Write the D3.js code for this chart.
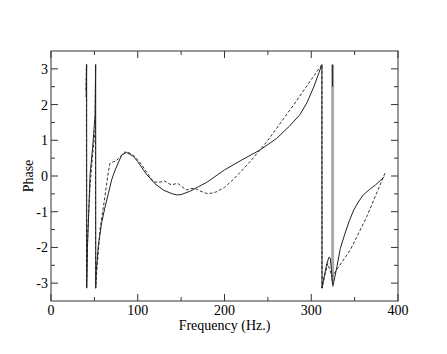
<!DOCTYPE html>
<html><head><meta charset="utf-8">
<script src="https://cdn.jsdelivr.net/npm/d3@7"></script>
<style>body{margin:0;background:#fff}svg{display:block}text{font-family:"Liberation Serif","Times New Roman",serif;fill:#000}</style>
</head><body><div id="chart"></div>
<script>
const xTicks = [0, 100, 200, 300, 400];
const xMinor = [50, 150, 250, 350];
const yTicks = [-3, -2, -1, 0, 1, 2, 3];
const yMinor = [-2.5, -1.5, -0.5, 0.5, 1.5, 2.5];

// solid series (null = gap)
const solidFreq = [40.5, 41.1, 41.2, 42, 43.5, 45, 48, 50.8, 51.5, 51.6, 52, 54.6, 58.5, 62, 66, 70, 74, 81.5, 87, 95, 100, 110, 120, 130, 140, 145, 150, 160, 170, 180, 200, 220, 241, 260, 275, 287, 295, 303, 309, 312.3, 312.4, 315, 318, 320.5, 322, 323.5, 324.6, null, 324.6, 324.6, null, 324.8, 327, 329.6, 333.5, 339, 344, 349, 355, 360, 367, 374, 380, 384];
const solidPhase = [2.2, 3.12, -3.14, -2.0, -1.0, 0.03, 0.8, 1.7, 3.12, -3.14, -2.7, -1.93, -1.3, -0.9, -0.5, -0.1, 0.17, 0.59, 0.66, 0.55, 0.4, 0.05, -0.22, -0.4, -0.5, -0.53, -0.52, -0.43, -0.3, -0.17, 0.17, 0.45, 0.73, 1.05, 1.4, 1.72, 2.05, 2.5, 2.9, 3.12, -3.14, -2.8, -2.45, -2.27, -2.3, -2.7, -3.05, null, 2.5, 3.12, null, -3.1, -2.85, -2.54, -2.03, -1.6, -1.25, -0.95, -0.7, -0.53, -0.38, -0.25, -0.12, -0.02];

// dashed series
const dashFreq = [40.3, 40.8, 40.9, 42.5, 45, 48, 51, 51.3, 51.4, 53, 56.5, 62, 66, 68, 72, 75, 80, 85, 89, 95, 100, 105, 110, 114, 118, 124, 131, 135, 139, 143, 147, 152, 156.6, 161, 166, 172, 178, 183, 190, 200, 210, 220, 230, 241, 250, 260, 270, 280, 290, 300, 312.3, 312.4, 316, 319, 321, 324, 330, 345, 364, 385];
const dashPhase = [2.4, 3.12, -3.14, -1.5, -0.3, 0.6, 1.3, 3.12, -3.14, -2.6, -1.5, -0.6, 0.1, 0.36, 0.4, 0.42, 0.55, 0.67, 0.66, 0.58, 0.45, 0.3, 0.12, -0.02, -0.16, -0.18, -0.14, -0.2, -0.25, -0.22, -0.22, -0.32, -0.39, -0.35, -0.35, -0.42, -0.48, -0.49, -0.45, -0.32, -0.1, 0.15, 0.42, 0.73, 1.0, 1.33, 1.67, 2.0, 2.35, 2.7, 3.12, -3.14, -2.75, -2.45, -2.6, -2.82, -2.6, -2.07, -1.14, 0.08];

// gray band (rapid wrapping region)
const bandFreq = [324.6, 324.6];
const bandPhase = [-2.95, 3.12];

const W = 447, H = 354;
const m = {left: 51, right: 49, top: 51, bottom: 53};
const svg = d3.select("#chart").append("svg").attr("width", W).attr("height", H);
const x = d3.scaleLinear().domain([0, 400]).range([m.left, W - m.right]);
const y = d3.scaleLinear().domain([-3.5, 3.5]).range([H - m.bottom, m.top]);

const zip = (a, b) => a.map((v, i) => [v, b[i]]);
const line = d3.line().defined(d => d[0] !== null && d[1] !== null).x(d => x(d[0])).y(d => y(d[1]));

const g = svg.append("g");
g.append("path").datum(zip(bandFreq, bandPhase)).attr("d", line)
  .attr("fill", "none").attr("stroke", "#aaa").attr("stroke-width", 3);
g.append("path").datum(zip(dashFreq, dashPhase)).attr("d", line)
  .attr("fill", "none").attr("stroke", "#333").attr("stroke-width", 1).attr("stroke-dasharray", "3,2");
g.append("path").datum(zip(solidFreq, solidPhase)).attr("d", line)
  .attr("fill", "none").attr("stroke", "#222").attr("stroke-width", 1);

// frame
svg.append("rect").attr("x", x(0)).attr("y", y(3.5)).attr("width", x(400) - x(0)).attr("height", y(-3.5) - y(3.5))
  .attr("fill", "none").attr("stroke", "#333").attr("stroke-width", 1);

const tk = "#333";
function hTicks(vals, len) {
  vals.forEach(v => {
    svg.append("line").attr("x1", x(0)).attr("x2", x(0) + len).attr("y1", y(v)).attr("y2", y(v)).attr("stroke", tk);
    svg.append("line").attr("x1", x(400)).attr("x2", x(400) - len).attr("y1", y(v)).attr("y2", y(v)).attr("stroke", tk);
  });
}
function vTicks(vals, len) {
  vals.forEach(v => {
    svg.append("line").attr("y1", y(-3.5)).attr("y2", y(-3.5) - len).attr("x1", x(v)).attr("x2", x(v)).attr("stroke", tk);
    svg.append("line").attr("y1", y(3.5)).attr("y2", y(3.5) + len).attr("x1", x(v)).attr("x2", x(v)).attr("stroke", tk);
  });
}
hTicks(yTicks, 7); hTicks(yMinor, 4);
vTicks(xTicks, 7); vTicks(xMinor, 4);

svg.selectAll(".yl").data(yTicks).enter().append("text")
  .attr("x", x(0) - 3).attr("y", d => y(d) + 5).attr("text-anchor", "end")
  .attr("font-size", 14).text(d => d);
svg.selectAll(".xl").data(xTicks).enter().append("text")
  .attr("x", d => x(d)).attr("y", y(-3.5) + 14).attr("text-anchor", "middle")
  .attr("font-size", 14).text(d => d);

svg.append("text").attr("x", (x(0) + x(400)) / 2).attr("y", 330).attr("text-anchor", "middle")
  .attr("font-size", 14).text("Frequency (Hz.)");
svg.append("text").attr("transform", `translate(33,${y(0)}) rotate(-90)`).attr("text-anchor", "middle")
  .attr("font-size", 14).text("Phase");
</script></body></html>
